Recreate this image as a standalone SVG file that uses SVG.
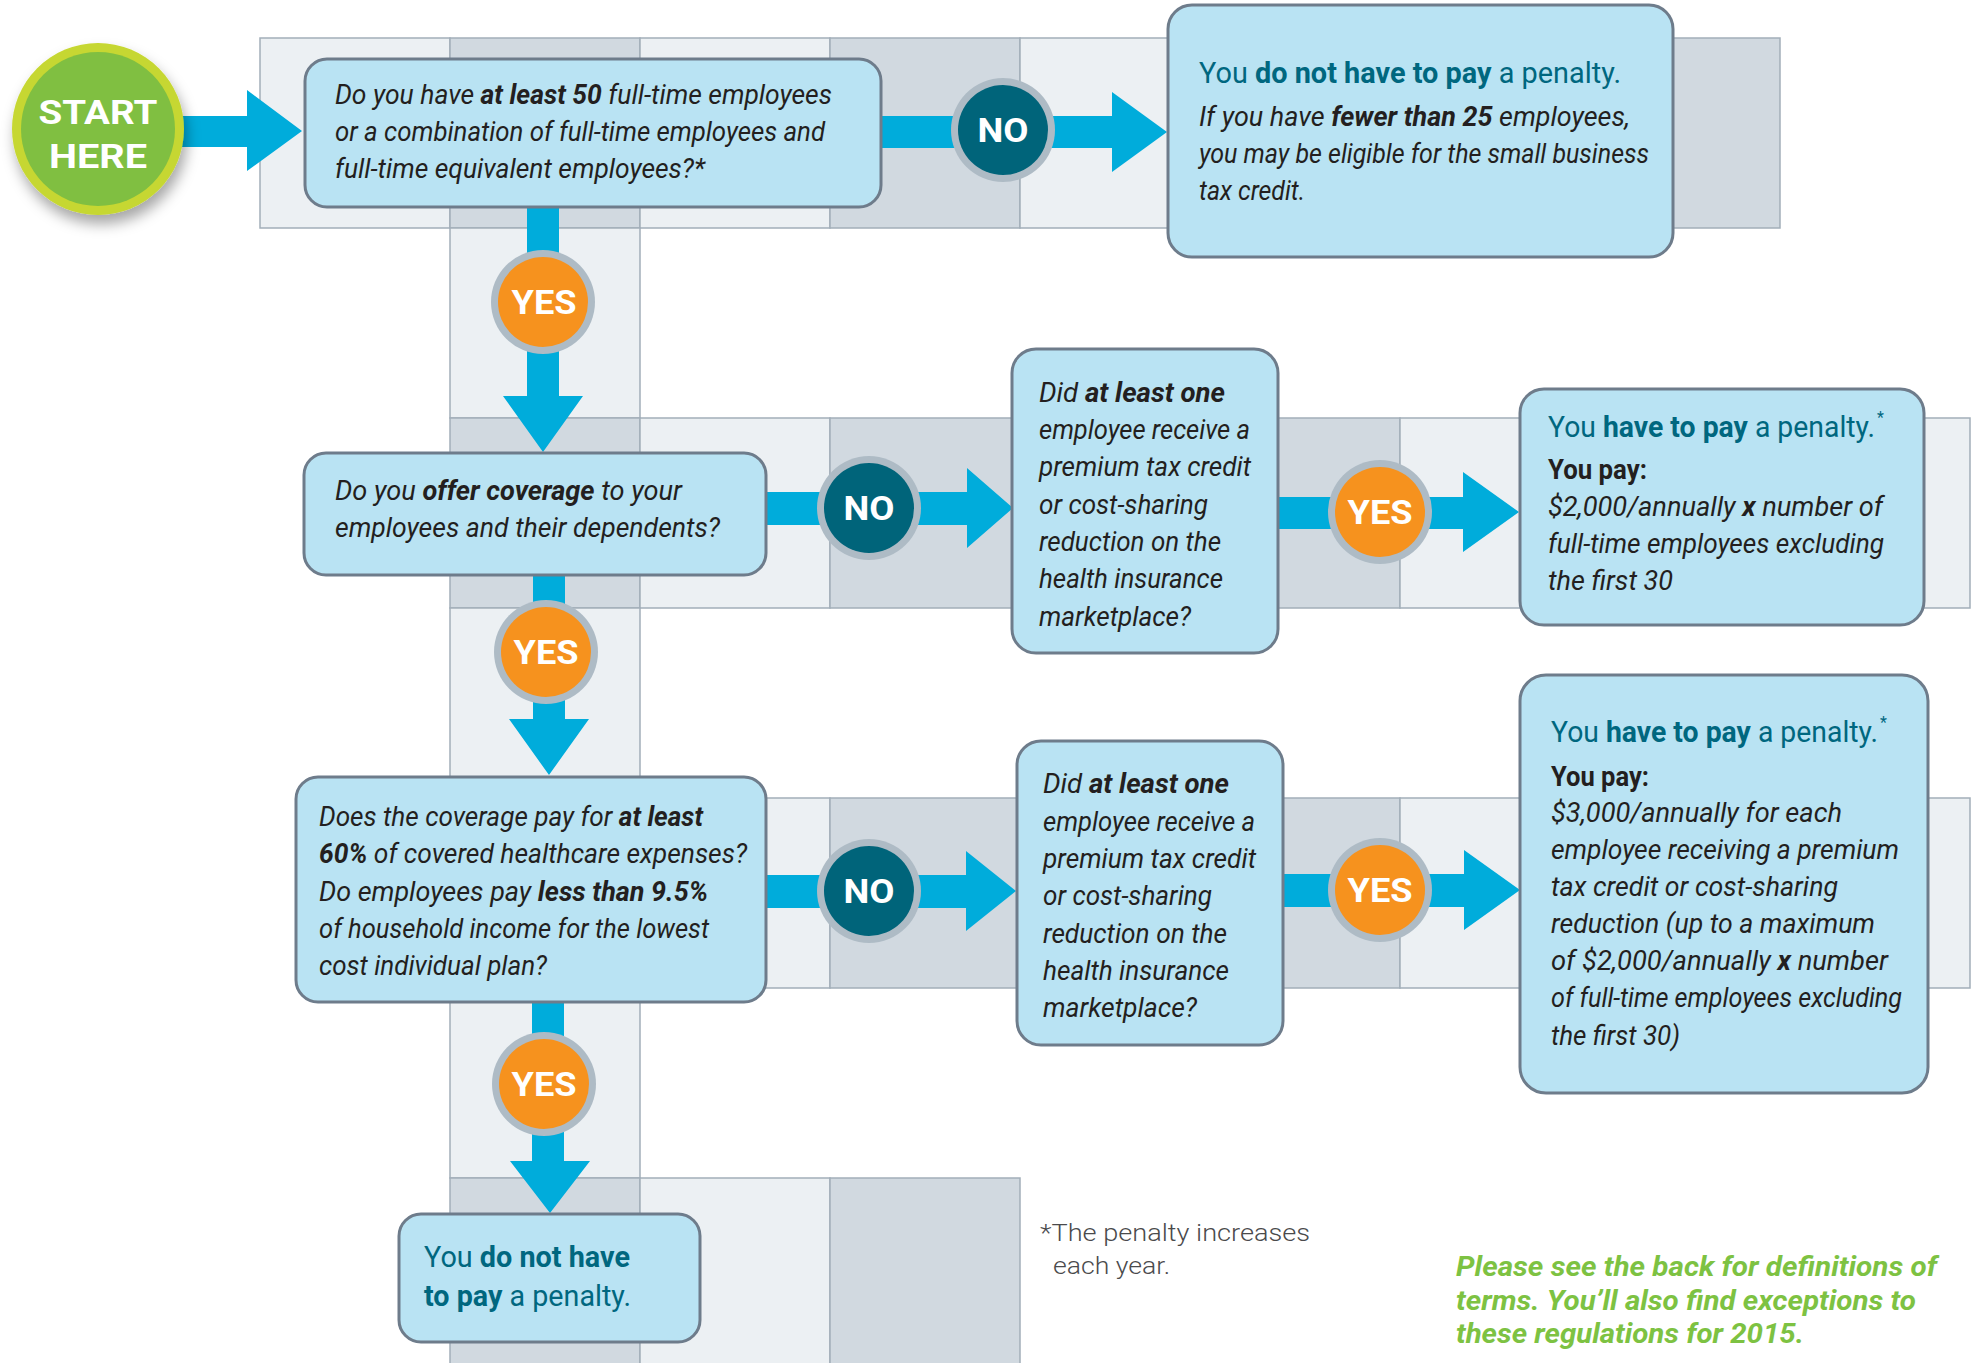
<svg xmlns="http://www.w3.org/2000/svg" width="1972" height="1363" viewBox="0 0 1972 1363">
<defs>
<style>
.L{fill:#ecf0f3;stroke:#a2aeb9;stroke-width:1.5}
.D{fill:#d1d9e0;stroke:#a2aeb9;stroke-width:1.5}
.box{fill:#b9e3f3;stroke:#6e7c8b;stroke-width:3}
.arr{fill:#00acdb}
.ring{fill:#aebbc5}
.yes{fill:#f6921e}
.no{fill:#00647a}
.lbl{font-family:Roboto,"Liberation Sans",sans-serif;font-weight:700;font-size:33px;fill:#ffffff;text-anchor:middle}
.q{font-family:Roboto,"Liberation Sans",sans-serif;font-style:italic;font-weight:400;font-size:27px;fill:#231f20}
.h{font-family:Roboto,"Liberation Sans",sans-serif;font-weight:400;font-size:30px;fill:#00677f}
.pay{font-family:Roboto,"Liberation Sans",sans-serif;font-weight:700;font-size:28px;fill:#231f20}
.b{font-weight:700}
.sup{font-family:Roboto,"Liberation Sans",sans-serif;font-size:16px;fill:#00677f}
.foot{font-family:Roboto,"Liberation Sans",sans-serif;font-weight:300;font-size:24px;fill:#4a4a4c}
.green{font-family:Roboto,"Liberation Sans",sans-serif;font-style:italic;font-weight:700;font-size:27px;fill:#7dc242}
</style>
<filter id="sh" x="-30%" y="-30%" width="160%" height="170%">
<feDropShadow dx="3" dy="9" stdDeviation="7" flood-color="#000" flood-opacity="0.35"/>
</filter>
</defs>
<rect width="1972" height="1363" fill="#ffffff"/>
<g id="grid">
<rect class="L" x="260" y="38" width="190" height="190"/>
<rect class="D" x="450" y="38" width="190" height="190"/>
<rect class="L" x="640" y="38" width="190" height="190"/>
<rect class="D" x="830" y="38" width="190" height="190"/>
<rect class="L" x="1020" y="38" width="190" height="190"/>
<rect class="D" x="1210" y="38" width="190" height="190"/>
<rect class="L" x="1400" y="38" width="190" height="190"/>
<rect class="D" x="1590" y="38" width="190" height="190"/>
<rect class="L" x="450" y="228" width="190" height="190"/>
<rect class="D" x="450" y="418" width="190" height="190"/>
<rect class="L" x="640" y="418" width="190" height="190"/>
<rect class="D" x="830" y="418" width="190" height="190"/>
<rect class="L" x="1020" y="418" width="190" height="190"/>
<rect class="D" x="1210" y="418" width="190" height="190"/>
<rect class="L" x="1400" y="418" width="190" height="190"/>
<rect class="D" x="1590" y="418" width="190" height="190"/>
<rect class="L" x="1780" y="418" width="190" height="190"/>
<rect class="L" x="450" y="608" width="190" height="190"/>
<rect class="D" x="450" y="798" width="190" height="190"/>
<rect class="L" x="640" y="798" width="190" height="190"/>
<rect class="D" x="830" y="798" width="190" height="190"/>
<rect class="L" x="1020" y="798" width="190" height="190"/>
<rect class="D" x="1210" y="798" width="190" height="190"/>
<rect class="L" x="1400" y="798" width="190" height="190"/>
<rect class="D" x="1590" y="798" width="190" height="190"/>
<rect class="L" x="1780" y="798" width="190" height="190"/>
<rect class="L" x="450" y="988" width="190" height="190"/>
<rect class="D" x="450" y="1178" width="190" height="190"/>
<rect class="L" x="640" y="1178" width="190" height="190"/>
<rect class="D" x="830" y="1178" width="190" height="190"/>
</g>
<g id="connectors">
<polygon class="arr" points="170,116 247,116 247,90 302,131 247,171 247,147 170,147"/>
<polygon class="arr" points="870,116 1112,116 1112,92 1167,132 1112,172 1112,148 870,148"/>
<polygon class="arr" points="527,200 559,200 559,396 583,396 543,452 503,396 527,396"/>
<polygon class="arr" points="760,492 967,492 967,468 1013,508 967,548 967,525 760,525"/>
<polygon class="arr" points="1270,497 1463,497 1463,472 1519,512 1463,552 1463,529 1270,529"/>
<polygon class="arr" points="533,570 565,570 565,719 589,719 549,775 509,719 533,719"/>
<polygon class="arr" points="760,875 966,875 966,851 1016,891 966,931 966,908 760,908"/>
<polygon class="arr" points="1275,874 1464,874 1464,850 1520,890 1464,930 1464,907 1275,907"/>
<polygon class="arr" points="532,995 564,995 564,1161 590,1161 550,1213 510,1161 532,1161"/>
</g>
<g id="start">
<circle cx="98" cy="129" r="86" fill="#c6d730" filter="url(#sh)"/>
<circle cx="98" cy="129" r="77" fill="#80bf41"/>
<text class="lbl" x="98" y="124" font-size="38" textLength="119" lengthAdjust="spacingAndGlyphs">START</text>
<text class="lbl" x="98" y="168" font-size="38" textLength="98" lengthAdjust="spacingAndGlyphs">HERE</text>
</g>
<g id="q1">
<rect class="box" x="305" y="59" width="576" height="148" rx="22"/>
<text class="q" x="335" y="104" textLength="497" lengthAdjust="spacingAndGlyphs">Do you have <tspan class="b">at least 50</tspan> full-time employees</text>
<text class="q" x="335" y="141" textLength="490" lengthAdjust="spacingAndGlyphs">or a combination of full-time employees and</text>
<text class="q" x="335" y="178" textLength="370" lengthAdjust="spacingAndGlyphs">full-time equivalent employees?*</text>
</g>
<g id="r1">
<rect class="box" x="1168" y="5" width="505" height="252" rx="24"/>
<text class="h" x="1199" y="83" textLength="422" lengthAdjust="spacingAndGlyphs">You <tspan class="b">do not have to pay</tspan> a penalty.</text>
<text class="q" x="1199" y="126" textLength="431" lengthAdjust="spacingAndGlyphs">If you have <tspan class="b">fewer than 25</tspan> employees,</text>
<text class="q" x="1199" y="163" textLength="450" lengthAdjust="spacingAndGlyphs">you may be eligible for the small business</text>
<text class="q" x="1199" y="200" textLength="106" lengthAdjust="spacingAndGlyphs">tax credit.</text>
</g>
<g id="q2">
<rect class="box" x="304" y="453" width="462" height="122" rx="22"/>
<text class="q" x="335" y="500" textLength="347" lengthAdjust="spacingAndGlyphs">Do you <tspan class="b">offer coverage</tspan> to your</text>
<text class="q" x="335" y="537" textLength="385" lengthAdjust="spacingAndGlyphs">employees and their dependents?</text>
</g>
<g id="q3">
<rect class="box" x="1012" y="349" width="266" height="304" rx="24"/>
<text class="q" x="1039" y="402" textLength="186" lengthAdjust="spacingAndGlyphs">Did <tspan class="b">at least one</tspan></text>
<text class="q" x="1039" y="439" textLength="211" lengthAdjust="spacingAndGlyphs">employee receive a</text>
<text class="q" x="1039" y="476" textLength="212" lengthAdjust="spacingAndGlyphs">premium tax credit</text>
<text class="q" x="1039" y="514" textLength="169" lengthAdjust="spacingAndGlyphs">or cost-sharing</text>
<text class="q" x="1039" y="551" textLength="182" lengthAdjust="spacingAndGlyphs">reduction on the</text>
<text class="q" x="1039" y="588" textLength="184" lengthAdjust="spacingAndGlyphs">health insurance</text>
<text class="q" x="1039" y="626" textLength="152" lengthAdjust="spacingAndGlyphs">marketplace?</text>
</g>
<g id="r2">
<rect class="box" x="1520" y="389" width="404" height="236" rx="24"/>
<text class="h" x="1548" y="437" textLength="327" lengthAdjust="spacingAndGlyphs">You <tspan class="b">have to pay</tspan> a penalty.</text>
<text class="sup" x="1877" y="423">*</text>
<text class="pay" x="1548" y="479" textLength="99" lengthAdjust="spacingAndGlyphs">You pay:</text>
<text class="q" x="1548" y="516" textLength="335" lengthAdjust="spacingAndGlyphs">$2,000/annually <tspan class="b">x</tspan> number of</text>
<text class="q" x="1548" y="553" textLength="336" lengthAdjust="spacingAndGlyphs">full-time employees excluding</text>
<text class="q" x="1548" y="590" textLength="125" lengthAdjust="spacingAndGlyphs">the first 30</text>
</g>
<g id="q4">
<rect class="box" x="296" y="777" width="470" height="225" rx="22"/>
<text class="q" x="319" y="826" textLength="384" lengthAdjust="spacingAndGlyphs">Does the coverage pay for <tspan class="b">at least</tspan></text>
<text class="q" x="319" y="863" textLength="428" lengthAdjust="spacingAndGlyphs"><tspan class="b">60%</tspan> of covered healthcare expenses?</text>
<text class="q" x="319" y="901" textLength="389" lengthAdjust="spacingAndGlyphs">Do employees pay <tspan class="b">less than 9.5%</tspan></text>
<text class="q" x="319" y="938" textLength="390" lengthAdjust="spacingAndGlyphs">of household income for the lowest</text>
<text class="q" x="319" y="975" textLength="228" lengthAdjust="spacingAndGlyphs">cost individual plan?</text>
</g>
<g id="q5">
<rect class="box" x="1017" y="741" width="266" height="304" rx="24"/>
<text class="q" x="1043" y="793" textLength="186" lengthAdjust="spacingAndGlyphs">Did <tspan class="b">at least one</tspan></text>
<text class="q" x="1043" y="831" textLength="212" lengthAdjust="spacingAndGlyphs">employee receive a</text>
<text class="q" x="1043" y="868" textLength="213" lengthAdjust="spacingAndGlyphs">premium tax credit</text>
<text class="q" x="1043" y="905" textLength="169" lengthAdjust="spacingAndGlyphs">or cost-sharing</text>
<text class="q" x="1043" y="943" textLength="184" lengthAdjust="spacingAndGlyphs">reduction on the</text>
<text class="q" x="1043" y="980" textLength="186" lengthAdjust="spacingAndGlyphs">health insurance</text>
<text class="q" x="1043" y="1017" textLength="154" lengthAdjust="spacingAndGlyphs">marketplace?</text>
</g>
<g id="r3">
<rect class="box" x="1520" y="675" width="408" height="418" rx="26"/>
<text class="h" x="1551" y="742" textLength="327" lengthAdjust="spacingAndGlyphs">You <tspan class="b">have to pay</tspan> a penalty.</text>
<text class="sup" x="1880" y="728">*</text>
<text class="pay" x="1551" y="786" textLength="98" lengthAdjust="spacingAndGlyphs">You pay:</text>
<text class="q" x="1551" y="822" textLength="291" lengthAdjust="spacingAndGlyphs">$3,000/annually for each</text>
<text class="q" x="1551" y="859" textLength="348" lengthAdjust="spacingAndGlyphs">employee receiving a premium</text>
<text class="q" x="1551" y="896" textLength="287" lengthAdjust="spacingAndGlyphs">tax credit or cost-sharing</text>
<text class="q" x="1551" y="933" textLength="324" lengthAdjust="spacingAndGlyphs">reduction (up to a maximum</text>
<text class="q" x="1551" y="970" textLength="337" lengthAdjust="spacingAndGlyphs">of $2,000/annually <tspan class="b">x</tspan> number</text>
<text class="q" x="1551" y="1007" textLength="351" lengthAdjust="spacingAndGlyphs">of full-time employees excluding</text>
<text class="q" x="1551" y="1045" textLength="129" lengthAdjust="spacingAndGlyphs">the first 30)</text>
</g>
<g id="r4">
<rect class="box" x="399" y="1214" width="301" height="128" rx="22"/>
<text class="h" x="424" y="1267" textLength="206" lengthAdjust="spacingAndGlyphs">You <tspan class="b">do not have</tspan></text>
<text class="h" x="424" y="1306" textLength="207" lengthAdjust="spacingAndGlyphs"><tspan class="b">to pay</tspan> a penalty.</text>
</g>
<g id="labels">
<g id="no1"><circle class="ring" cx="1003" cy="130" r="52"/><circle class="no" cx="1003" cy="130" r="45"/><text class="lbl" x="1003" y="142" textLength="51" lengthAdjust="spacingAndGlyphs">NO</text></g>
<g id="yes1"><circle class="ring" cx="543" cy="302" r="52"/><circle class="yes" cx="543" cy="302" r="45"/><text class="lbl" x="544" y="314" textLength="65" lengthAdjust="spacingAndGlyphs">YES</text></g>
<g id="no2"><circle class="ring" cx="869" cy="508" r="52"/><circle class="no" cx="869" cy="508" r="45"/><text class="lbl" x="869" y="520" textLength="51" lengthAdjust="spacingAndGlyphs">NO</text></g>
<g id="yes2"><circle class="ring" cx="1380" cy="512" r="52"/><circle class="yes" cx="1380" cy="512" r="45"/><text class="lbl" x="1380" y="524" textLength="65" lengthAdjust="spacingAndGlyphs">YES</text></g>
<g id="yes3"><circle class="ring" cx="546" cy="652" r="52"/><circle class="yes" cx="546" cy="652" r="45"/><text class="lbl" x="546" y="664" textLength="65" lengthAdjust="spacingAndGlyphs">YES</text></g>
<g id="no3"><circle class="ring" cx="869" cy="891" r="52"/><circle class="no" cx="869" cy="891" r="45"/><text class="lbl" x="869" y="903" textLength="51" lengthAdjust="spacingAndGlyphs">NO</text></g>
<g id="yes4"><circle class="ring" cx="1380" cy="890" r="52"/><circle class="yes" cx="1380" cy="890" r="45"/><text class="lbl" x="1380" y="902" textLength="65" lengthAdjust="spacingAndGlyphs">YES</text></g>
<g id="yes5"><circle class="ring" cx="544" cy="1084" r="52"/><circle class="yes" cx="544" cy="1084" r="45"/><text class="lbl" x="544" y="1096" textLength="65" lengthAdjust="spacingAndGlyphs">YES</text></g>
</g>
<g id="footnote">
<text class="foot" x="1040" y="1241" textLength="270" lengthAdjust="spacingAndGlyphs">*The penalty increases</text>
<text class="foot" x="1053" y="1274" textLength="117" lengthAdjust="spacingAndGlyphs">each year.</text>
</g>
<g id="note">
<text class="green" x="1456" y="1276" textLength="481" lengthAdjust="spacingAndGlyphs">Please see the back for definitions of</text>
<text class="green" x="1456" y="1310" textLength="460" lengthAdjust="spacingAndGlyphs">terms. You’ll also find exceptions to</text>
<text class="green" x="1456" y="1343" textLength="348" lengthAdjust="spacingAndGlyphs">these regulations for 2015.</text>
</g>
</svg>
